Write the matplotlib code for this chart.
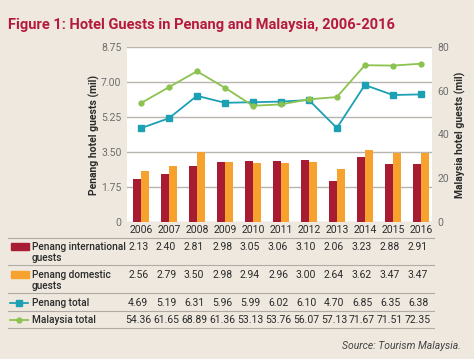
import matplotlib.pyplot as plt
import numpy as np
from matplotlib.lines import Line2D
from matplotlib.patches import Rectangle
from matplotlib.transforms import blended_transform_factory

plt.rcParams['font.family'] = ['Roboto', 'DejaVu Sans']

years = ['2006', '2007', '2008', '2009', '2010', '2011', '2012', '2013', '2014', '2015', '2016']
intl = [2.13, 2.40, 2.81, 2.98, 3.05, 3.06, 3.10, 2.06, 3.23, 2.88, 2.91]
domestic = [2.56, 2.79, 3.50, 2.98, 2.94, 2.96, 3.00, 2.64, 3.62, 3.47, 3.47]
penang_total = [4.69, 5.19, 6.31, 5.96, 5.99, 6.02, 6.10, 4.70, 6.85, 6.35, 6.38]
malaysia_total = [54.36, 61.65, 68.89, 61.36, 53.13, 53.76, 56.07, 57.13, 71.67, 71.51, 72.35]
left_ticks = [0, 1.75, 3.50, 5.25, 7.00, 8.75]
left_labels = ['0', '1.75', '3.50', '5.25', '7.00', '8.75']
right_ticks = [0, 20, 40, 60, 80]

bg = '#EEE8DF'
red = '#A81C33'
orange = '#F7A12E'
teal = '#1CA0B3'
green = '#8CC24F'
grid_c = '#B8B4AE'
text_c = '#2B2B2B'
tick_c = '#6E6E6E'

W, H = 474, 359
fig = plt.figure(figsize=(4.74, 3.59), dpi=100, facecolor=bg)

def fy(py):
    return 1 - py / H

ax = fig.add_axes([127 / W, fy(222), 305 / W, (222 - 47) / H])
ax.set_facecolor('white')
x = np.arange(len(years))
bw = 0.29
ax.bar(x - bw / 2, intl, bw, color=red, zorder=3)
ax.bar(x + bw / 2, domestic, bw, color=orange, zorder=3)
ax.plot(x, penang_total, color=teal, marker='s', markersize=4, lw=1.3, zorder=4)
ax.set_xlim(-0.5, 10.4)
ax.set_ylim(0, 8.75)
ax.set_yticks(left_ticks)
ax.set_yticklabels(left_labels)
ax.set_xticks(x)
ax.set_xticklabels(years)
ax.grid(axis='y', color=grid_c, lw=1, zorder=0)
for s in ax.spines.values():
    s.set_visible(False)
ax.tick_params(axis='y', length=0, labelsize=7.5, labelcolor=tick_c, pad=4)
ax.tick_params(axis='x', length=0, labelsize=7.5, labelcolor=text_c, pad=2)
ax.set_ylabel('Penang hotel guests (mil)', fontsize=7.5, fontweight='bold', color=text_c, labelpad=1)

ax2 = ax.twinx()
ax2.plot(x, malaysia_total, color=green, marker='o', markersize=3.5, lw=1.3, zorder=4)
ax2.set_ylim(0, 80)
ax2.set_yticks(right_ticks)
for s in ax2.spines.values():
    s.set_visible(False)
ax2.tick_params(axis='y', length=0, labelsize=7.5, labelcolor=tick_c, pad=4)
ax2.set_ylabel('Malaysia hotel guests (mil)', fontsize=7.5, fontweight='bold', color=text_c, labelpad=4)

fig.text(8 / W, fy(25), 'Figure 1: Hotel Guests in Penang and Malaysia, 2006-2016',
         fontsize=10.5, fontweight='bold', color='#B51A3C', va='center', ha='left')

# table under chart
tr = blended_transform_factory(ax.transData, fig.transFigure)
for py in [238, 265, 293, 311, 328]:
    fig.add_artist(Line2D([8 / W, 434 / W], [fy(py), fy(py)], color='#B0ABA4', lw=0.8))

rows = [
    ('Penang international', 'guests', intl, 247),
    ('Penang domestic', 'guests', domestic, 275),
    ('Penang total', None, penang_total, 303),
    ('Malaysia total', None, malaysia_total, 320),
]
for line1, line2, vals, py in rows:
    fig.text(32 / W, fy(py), line1, fontsize=7.3, fontweight='medium',
             color=text_c, va='center', ha='left')
    if line2:
        fig.text(32 / W, fy(py + 11), line2, fontsize=7.3, fontweight='medium',
                 color=text_c, va='center', ha='left')
    for xi, v in zip(x, vals):
        fig.text(xi - 0.1, fy(py), f'{v:.2f}', transform=tr, fontsize=7.5,
                 color=text_c, va='center', ha='center')

fig.add_artist(Rectangle((11 / W, fy(250)), 18 / W, 7 / H, transform=fig.transFigure, color=red))
fig.add_artist(Rectangle((11 / W, fy(278)), 18 / W, 7 / H, transform=fig.transFigure, color=orange))
fig.add_artist(Line2D([10 / W, 19 / W, 28 / W], [fy(303)] * 3, color=teal, lw=1.3,
                      marker='s', markersize=4, markevery=[1], transform=fig.transFigure))
fig.add_artist(Line2D([10 / W, 19 / W, 28 / W], [fy(320)] * 3, color=green, lw=1.3,
                      marker='o', markersize=3.5, markevery=[1], transform=fig.transFigure))

fig.text(461 / W, fy(346), 'Source: Tourism Malaysia.', fontsize=7.5, style='italic',
         color='#444444', ha='right', va='center')

fig.savefig('out.png', dpi=100, facecolor=bg)
